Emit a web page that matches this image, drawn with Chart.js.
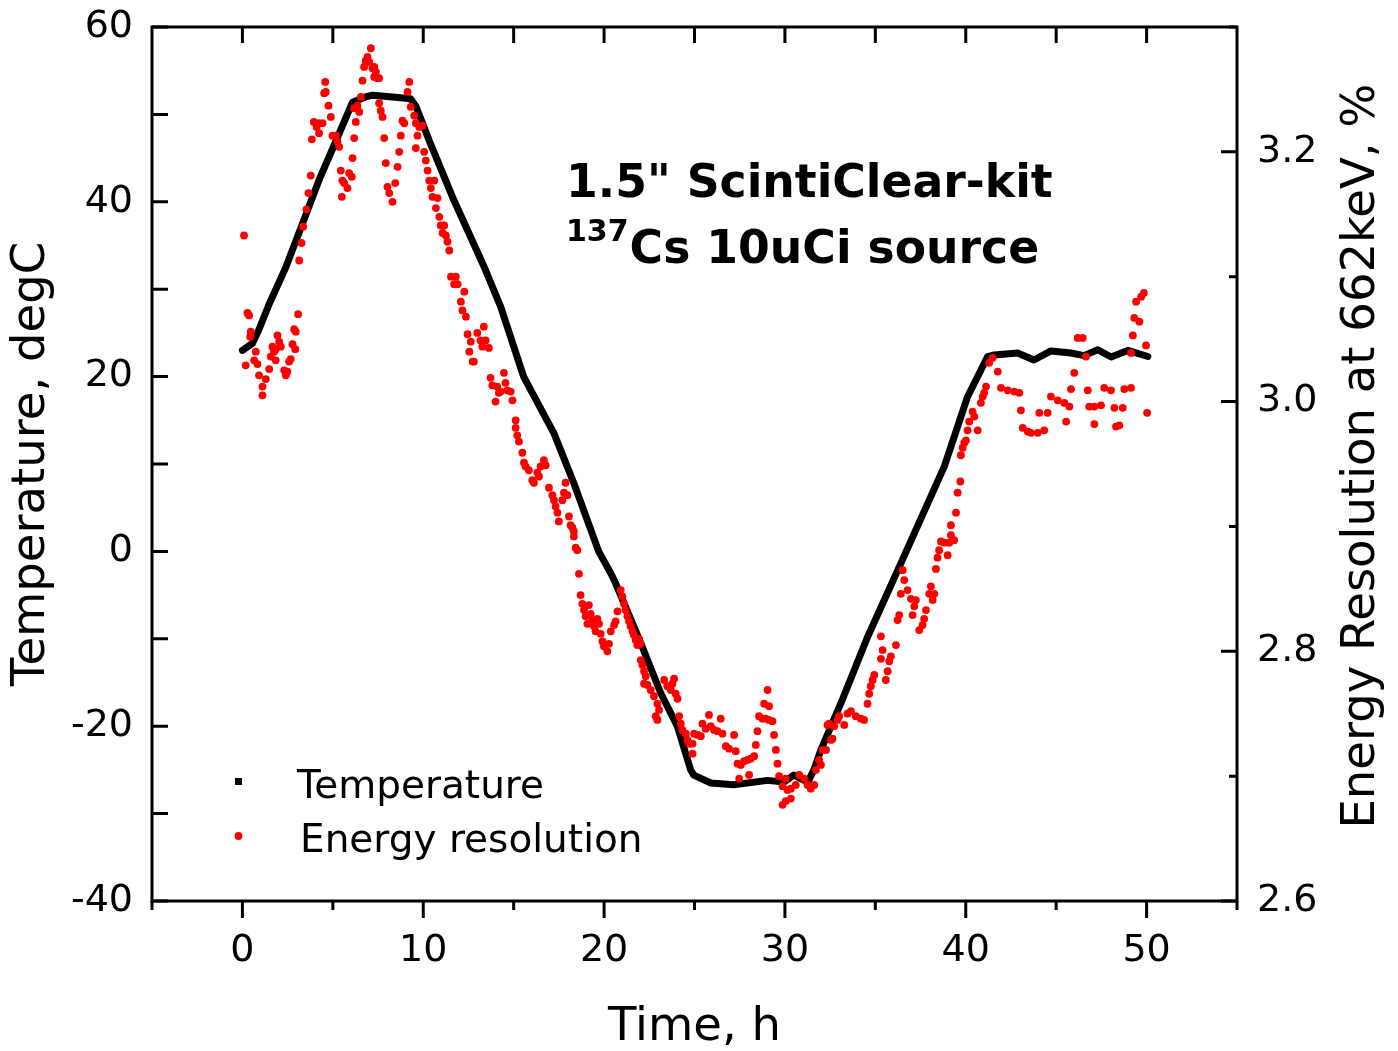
<!DOCTYPE html>
<html>
<head>
<meta charset="utf-8">
<script src="https://cdn.jsdelivr.net/npm/chart.js@4.4.1/dist/chart.umd.min.js"></script>
<style>
html, body { margin: 0; padding: 0; background: #fff; }
</style>
</head>
<body>
<canvas id="myChart" width="1398" height="1051"></canvas>
<script>
// values

const xTicks = [0, 10, 20, 30, 40, 50];
const tempTicks = [-40, -20, 0, 20, 40, 60];
const resTicks = [2.6, 2.8, 3.0, 3.2];

// temperature, degC vs time, h
const tempTime = [0, 0.55, 0.9, 1.48, 2.4, 3.32, 4.24, 5.16, 6.09, 6.8, 7.2, 8.3, 9.3, 9.6, 10.33,
  11.69, 13.36, 14.28, 15.55, 17.23, 18.33, 19.7, 20.37, 20.64, 22.03, 23.13, 24.06, 24.79, 24.96,
  25.9, 27.17, 29.05, 29.94, 30.49, 31.27, 31.6, 31.99, 33.09, 34.57, 36.41, 38.81, 39.55, 40.1,
  40.84, 41.21, 41.58, 42.87, 43.77, 44.71, 45.82, 46.54, 47.3, 48.04, 48.96, 50.07];
const tempValue = [23.0, 23.8, 25.3, 28.3, 32.5, 37.5, 42.5, 46.9, 51.4, 52.0, 52.2, 52.0, 51.8, 50.9, 47.0,
  40.2, 32.6, 28.0, 20.0, 13.5, 7.8, 0.0, -2.5, -3.65, -10.5, -16.2, -20.05, -25.0, -25.6,
  -26.5, -26.7, -26.2, -26.4, -25.6, -26.4, -25.0, -22.7, -17.4, -9.8, -1.37, 9.7, 14.27, 17.7,
  20.76, 22.28, 22.47, 22.7, 21.9, 22.94, 22.7, 22.4, 23.07, 22.24, 23.0, 22.3];

// energy resolution at 662keV, % vs time, h
const resTime = [0.09,0.28,0.37,0.46,0.43,0.18,0.74,0.83,0.65,0.92,
  1.11,1.11,1.29,1.48,1.57,1.66,1.84,1.75,1.94,2.03,
  2.12,1.84,2.31,2.40,2.49,2.58,2.67,2.77,2.86,2.95,
  2.92,3.08,3.14,3.27,3.36,3.54,3.65,3.78,3.84,3.95,
  4.10,4.24,4.21,4.43,4.58,4.52,4.61,4.76,4.89,4.98,
  5.16,5.26,5.35,5.44,5.53,5.63,5.81,5.50,5.90,6.05,
  6.09,6.18,6.27,6.18,6.36,6.46,6.55,6.64,6.73,6.82,
  6.92,7.01,7.10,7.19,7.29,7.38,7.47,7.56,7.29,7.56,
  7.65,7.75,7.84,7.93,8.02,8.12,8.30,8.45,8.58,8.67,
  8.76,8.85,8.95,9.13,9.23,9.31,9.50,9.59,9.78,9.96,
  9.68,9.59,10.05,10.14,10.24,10.33,10.61,10.42,10.51,10.79,
  10.70,10.89,10.97,11.16,11.07,11.25,11.34,11.44,11.53,11.80,
  11.71,11.90,12.27,12.08,12.17,12.36,12.45,12.63,12.55,12.73,
  12.99,13.17,13.35,13.45,13.63,13.27,12.80,
  13.72,13.82,14.09,14.18,14.00,14.46,14.55,14.65,14.83,14.93,14.28,
  15.11,15.11,15.20,15.29,15.48,15.57,15.66,15.84,16.03,16.12,16.31,16.49,16.67,16.77,16.40,
  16.95,17.14,17.23,17.32,17.42,17.50,17.69,17.78,17.87,17.97,18.06,18.15,18.33,18.43,
  18.25,18.33,18.52,18.61,18.70,18.80,18.89,18.98,19.08,19.16,19.26,19.35,19.44,19.53,19.63,
  19.72,19.81,19.91,19.99,20.18,20.27,20.37,20.55,20.64,20.74,
  20.92,21.01,21.10,21.19,21.29,21.38,21.47,21.57,21.65,21.75,21.84,21.93,22.03,22.03,22.12,
  22.21,22.30,22.21,22.40,22.58,22.76,22.95,22.86,22.95,23.04,
  23.32,23.50,23.69,23.78,23.87,23.96,24.06,24.15,24.24,24.33,24.52,24.61,24.70,24.89,24.89,
  24.98,25.16,25.35,25.44,25.62,25.80,25.90,26.08,26.27,
  26.45,26.55,26.73,26.91,27.19,27.28,27.38,27.56,27.74,27.93,28.11,28.30,28.39,28.48,28.57,
  28.76,28.94,29.12,29.31,28.85,29.12,29.04,29.40,29.50,29.59,29.68,
  27.47,28.02,30.05,29.87,30.14,30.33,30.60,30.79,31.06,31.25,31.43,31.62,29.87,30.05,30.33,
  31.99,32.27,32.55,32.72,32.36,32.91,
  31.71,31.89,32.08,32.45,32.63,33.00,33.28,33.46,33.65,33.92,34.20,34.38,34.57,34.66,34.75,
  34.85,34.94,
  35.58,35.68,35.31,35.40,35.31,35.77,35.86,36.14,36.23,36.32,36.41,36.60,36.51,36.78,36.97,
  37.24,37.15,37.06,37.43,37.61,37.70,37.80,37.98,38.26,38.17,38.07,
  38.35,38.44,38.53,38.63,38.81,39.00,39.09,39.18,39.36,39.18,39.46,39.55,39.70,39.73,39.83,
  39.92,40.10,40.01,40.19,40.38,40.47,40.66,40.84,40.94,41.12,41.02,
  41.30,41.77,41.95,42.32,42.68,42.96,43.05,43.15,43.43,43.61,43.98,44.34,44.07,44.53,
  44.71,45.09,45.45,45.73,45.55,46.00,45.82,46.19,46.47,46.75,46.83,47.11,47.48,47.66,48.03,
  48.22,48.68,47.11,48.31,48.49,48.77,49.14,49.24,49.32,49.60,49.42,49.70,49.85,49.97,50.03,
  46.65,49.14,41.49];
const resValue = [3.133,3.071,3.069,3.056,3.052,3.029,3.040,3.030,3.033,3.021,
  3.012,3.005,3.018,3.026,3.036,3.044,3.042,3.040,3.053,3.048,
  3.044,3.033,3.025,3.021,3.024,3.032,3.034,3.046,3.058,3.056,
  3.042,3.070,3.113,3.127,3.140,3.154,3.167,3.181,3.210,3.224,
  3.220,3.215,3.223,3.223,3.256,3.247,3.248,3.237,3.228,3.213,
  3.213,3.208,3.204,3.185,3.177,3.175,3.171,3.164,3.183,3.180,
  3.195,3.211,3.224,3.235,3.237,3.232,3.244,3.257,3.268,3.273,
  3.276,3.272,3.283,3.267,3.268,3.264,3.259,3.259,3.260,3.239,
  3.233,3.228,3.211,3.191,3.172,3.167,3.160,3.175,3.188,3.200,
  3.213,3.225,3.223,3.248,3.256,3.236,3.229,3.223,3.220,3.221,
  3.213,3.203,3.200,3.193,3.185,3.177,3.177,3.171,3.164,3.163,
  3.155,3.148,3.141,3.141,3.135,3.133,3.128,3.121,3.100,3.100,
  3.094,3.094,3.088,3.080,3.073,3.068,3.054,3.048,3.040,3.032,
  3.055,3.049,3.060,3.049,3.043,3.044,3.032,
  3.019,3.013,3.012,3.007,3.000,3.023,3.015,3.009,3.008,3.001,3.008,
  2.985,2.979,2.973,2.968,2.959,2.951,2.948,2.945,2.937,2.935,2.943,2.948,2.953,2.949,2.940,
  2.931,2.925,2.921,2.916,2.911,2.904,2.921,2.927,2.935,2.925,2.908,2.901,2.896,2.883,
  2.899,2.892,2.881,2.862,2.845,2.838,2.833,2.828,2.822,2.837,2.830,2.825,2.820,2.816,2.826,
  2.822,2.814,2.808,2.804,2.800,2.806,2.816,2.821,2.824,2.832,
  2.849,2.844,2.838,2.833,2.828,2.824,2.820,2.816,2.813,2.809,2.805,2.810,2.806,2.793,2.789,
  2.784,2.780,2.774,2.773,2.769,2.764,2.758,2.748,2.745,2.753,
  2.777,2.772,2.769,2.774,2.778,2.766,2.762,2.748,2.742,2.737,2.734,2.729,2.726,2.726,2.718,
  2.734,2.733,2.732,2.742,2.738,2.749,2.740,2.737,2.736,
  2.746,2.734,2.724,2.722,2.733,2.720,2.710,2.709,2.712,2.713,2.714,2.716,2.725,2.736,2.748,
  2.746,2.746,2.745,2.744,2.758,2.756,2.769,2.733,2.721,2.710,2.700,
  2.698,2.701,2.698,2.692,2.689,2.690,2.693,2.701,2.698,2.693,2.690,2.693,2.677,2.680,2.682,
  2.709,2.721,2.729,2.740,2.741,2.745,
  2.705,2.713,2.721,2.742,2.730,2.748,2.741,2.750,2.752,2.748,2.746,2.745,2.758,2.766,2.772,
  2.777,2.781,
  2.777,2.784,2.794,2.801,2.812,2.792,2.796,2.805,2.825,2.829,2.846,2.857,2.865,2.849,2.842,
  2.841,2.836,2.829,2.817,2.821,2.826,2.833,2.846,2.846,2.841,2.852,
  2.866,2.875,2.881,2.888,2.887,2.877,2.887,2.893,2.889,2.901,2.911,2.927,2.936,2.957,2.963,
  2.967,2.977,2.969,2.984,2.992,2.988,2.977,2.999,3.004,3.012,3.007,
  3.031,3.024,3.011,3.009,3.008,3.007,2.993,2.979,2.976,2.975,2.975,2.977,2.991,2.991,
  3.004,3.001,2.999,2.996,2.984,3.023,3.010,3.051,3.051,3.009,2.996,2.996,2.997,3.011,3.009,
  2.995,2.995,2.982,2.980,2.981,3.010,3.011,3.053,3.067,3.064,3.080,3.084,3.087,3.045,2.991,
  3.036,3.039,3.035];

const family = '"DejaVu Sans", Verdana, sans-serif';

let toPoints = (xs, ys) => xs.map((x, i) => ({ x: x, y: ys[i] }));

// keep the plot box where the picture has it
let fixY = w => s => { s.width = w; s.paddingTop = 0; s.paddingBottom = 0; };

// frame, inward ticks, legend and the text block
const decor = {
  id: 'decor',
  afterDatasetsDraw(chart) {
    const ctx = chart.ctx;
    const a = chart.chartArea;
    const sx = chart.scales.x, yl = chart.scales.yT, yr = chart.scales.yR;
    ctx.save();
    ctx.strokeStyle = '#000';
    ctx.lineWidth = 3;
    ctx.strokeRect(a.left, a.top, a.right - a.left, a.bottom - a.top);
    ctx.beginPath();
    for (let v = -5; v <= 55; v += 5) {
      const px = sx.getPixelForValue(v);
      ctx.moveTo(px, a.bottom);
      ctx.lineTo(px, a.bottom + (v % 10 === 0 ? 17 : 9));
      if (v > -5 && v < 55) {
        ctx.moveTo(px, a.top);
        ctx.lineTo(px, a.top + 16);
      }
    }
    for (let v = -40; v <= 60; v += 10) {
      const py = yl.getPixelForValue(v);
      ctx.moveTo(a.left, py);
      ctx.lineTo(a.left + 16, py);
    }
    for (let i = 26; i <= 33; i++) {
      const py = yr.getPixelForValue(i / 10);
      ctx.moveTo(a.right, py);
      ctx.lineTo(a.right - (i % 2 === 0 ? 16 : 8), py);
    }
    ctx.stroke();

    // legend
    ctx.fillStyle = '#000';
    ctx.fillRect(235, 778, 7, 7);
    ctx.fillStyle = '#ff0000';
    ctx.beginPath();
    ctx.arc(238.5, 836, 3.9, 0, Math.PI * 2);
    ctx.fill();
    ctx.fillStyle = '#000';
    ctx.textAlign = 'left';
    ctx.textBaseline = 'alphabetic';
    ctx.font = '39px ' + family;
    ctx.fillText('Temperature', 297, 798);
    ctx.fillText('Energy resolution', 300, 852);

    // label block
    ctx.font = 'bold 45.7px ' + family;
    ctx.fillText('1.5" ScintiClear-kit', 566, 197);
    ctx.font = 'bold 30px ' + family;
    ctx.fillText('137', 566, 241);
    const w = ctx.measureText('137').width;
    ctx.font = 'bold 45.7px ' + family;
    ctx.fillText('Cs 10uCi source', 566 + w + 1, 263);

    // right axis title, reads bottom to top
    ctx.translate(1374, 456);
    ctx.rotate(-Math.PI / 2);
    ctx.textAlign = 'center';
    ctx.font = '46.5px ' + family;
    ctx.fillText('Energy Resolution at 662keV, %', 0, 0);
    ctx.restore();
  }
};

const ctx = document.getElementById('myChart');

new Chart(ctx, {
  type: 'scatter',
  data: {
    datasets: [{
      label: 'Energy resolution',
      data: toPoints(resTime, resValue),
      yAxisID: 'yR',
      backgroundColor: '#ff0000',
      borderWidth: 0,
      pointRadius: 3.9,
      order: 1
    }, {
      label: 'Temperature',
      data: toPoints(tempTime, tempValue),
      yAxisID: 'yT',
      showLine: true,
      borderColor: '#000',
      backgroundColor: '#000',
      borderWidth: 7,
      borderJoinStyle: 'round',
      borderCapStyle: 'round',
      pointRadius: 0,
      order: 2
    }]
  },
  options: {
    responsive: false,
    animation: false,
    devicePixelRatio: 1,
    layout: { padding: { top: 27, left: 0, right: 0, bottom: 0 } },
    plugins: { legend: { display: false }, tooltip: { enabled: false } },
    scales: {
      x: {
        type: 'linear',
        position: 'bottom',
        min: -5,
        max: 55,
        grid: { display: false, drawTicks: false },
        border: { display: false },
        afterBuildTicks: s => { s.ticks = xTicks.map(v => ({ value: v })); },
        afterFit: s => { s.height = 150; s.paddingLeft = 0; s.paddingRight = 0; },
        ticks: { color: '#000', font: { family: family, size: 38 }, padding: 27, maxRotation: 0 },
        title: { display: true, text: 'Time, h', color: '#000', font: { family: family, size: 46.5, lineHeight: 1.0 }, padding: { top: 0, bottom: 0 } }
      },
      yT: {
        type: 'linear',
        position: 'left',
        min: -40,
        max: 60,
        grid: { display: false, drawTicks: false },
        border: { display: false },
        afterBuildTicks: s => { s.ticks = tempTicks.map(v => ({ value: v })); },
        afterFit: fixY(152),
        ticks: { color: '#000', font: { family: family, size: 38 }, padding: 19 },
        title: { display: true, text: 'Temperature, degC', color: '#000', font: { family: family, size: 46.5 }, padding: { top: 4, bottom: 0 } }
      },
      yR: {
        type: 'linear',
        position: 'right',
        min: 2.6,
        max: 3.3,
        grid: { display: false, drawTicks: false },
        border: { display: false },
        afterBuildTicks: s => { s.ticks = resTicks.map(v => ({ value: v })); },
        afterFit: fixY(161),
        ticks: { color: '#000', font: { family: family, size: 38 }, padding: 20, callback: v => v.toFixed(1) }
      }
    }
  },
  plugins: [decor]
});
</script>
</body>
</html>
